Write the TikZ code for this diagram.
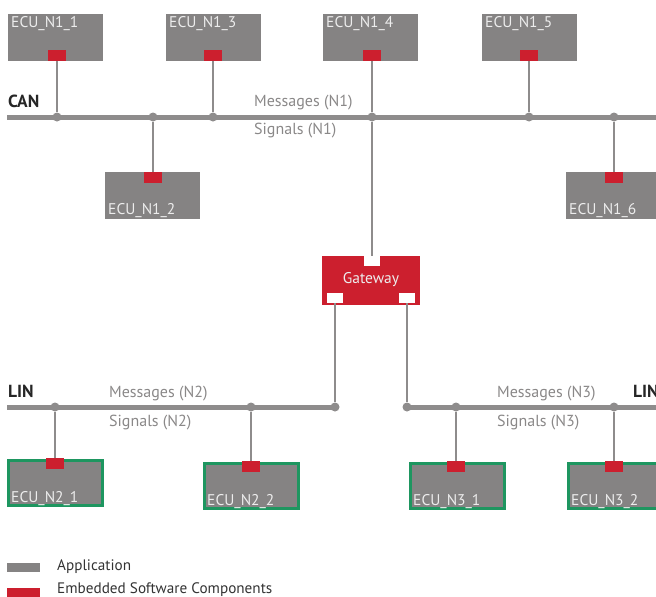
\documentclass[tikz,border=0pt]{standalone}
\usepackage{fontspec}
\setmainfont{PT Sans}
\definecolor{ecugray}{HTML}{858383}
\definecolor{busgray}{HTML}{8E8C8C}
\definecolor{ecured}{HTML}{CC1F2E}
\definecolor{ecugreen}{HTML}{1E9660}
\definecolor{lbltxt}{HTML}{EDEDED}
\definecolor{bustxt}{HTML}{8A8888}
\begin{document}
\begin{tikzpicture}[x=1pt,y=-1pt,
  ecu/.style={fill=ecugray, minimum width=95pt, minimum height=47pt, inner sep=0pt, anchor=north west},
  ecug/.style={fill=ecugray, draw=ecugreen, line width=3pt, minimum width=94pt, minimum height=45pt, inner sep=0pt, anchor=north west},
  port/.style={fill=ecured, minimum width=18pt, minimum height=11pt, inner sep=0pt},
  wport/.style={fill=white, minimum width=16pt, minimum height=10pt, inner sep=0pt},
  dot/.style={circle, fill=busgray, inner sep=0pt, minimum size=9pt},
  bus/.style={busgray, line width=5pt},
  drop/.style={busgray, line width=2pt},
  lbl/.style={text=lbltxt, font=\fontsize{15.5}{16}\selectfont, inner xsep=3pt, inner ysep=2pt},
  bustext/.style={text=bustxt, font=\fontsize{16}{18}\selectfont, inner sep=0pt, anchor=west},
  busname/.style={text=black!85, font=\bfseries\fontsize{17.5}{18}\selectfont, inner sep=0pt, anchor=west},
  legtext/.style={text=black!80, font=\fontsize{15.2}{17}\selectfont, inner sep=0pt, anchor=west}
]
\useasboundingbox (0,0) rectangle (656,597);
% buses
\coordinate (canL) at (7,117);
\coordinate (canR) at (656,117);
\coordinate (linAL) at (7,407);
\coordinate (linBR) at (656,407);
\draw[bus] (canL) -- (canR);
\draw[bus] (linAL) -- (335,407);
\draw[bus] (407,407) -- (linBR);
% dots
\node[dot] (d11) at (57,117) {};
\node[dot] (d12) at (153,117) {};
\node[dot] (d13) at (213,117) {};
\node[dot] (d14) at (372,117) {};
\node[dot] (d15) at (529,117) {};
\node[dot] (d16) at (614,117) {};
\node[dot] (d21) at (55,407) {};
\node[dot] (d22) at (251,407) {};
\node[dot] (d2g) at (335,407) {};
\node[dot] (d3g) at (407,407) {};
\node[dot] (d31) at (456,407) {};
\node[dot] (d32) at (614,407) {};
% bus labels
\node[busname] (can) at (8,101) {CAN};
\node[bustext] (m1) at (254,103) {Messages (N1)};
\node[bustext] (s1) at (254,131) {Signals (N1)};
\node[busname] (linA) at (8,391) {LIN};
\node[bustext] (m2) at (109,394) {Messages (N2)};
\node[bustext] (s2) at (109,423) {Signals (N2)};
\node[busname] (linB) at (633,391) {LIN};
\node[bustext] (m3) at (497,394) {Messages (N3)};
\node[bustext] (s3) at (497,423) {Signals (N3)};
% top ECUs
\node[ecu] (e11) at (8,14) {};
\node[lbl, anchor=north west] at (e11.north west) {ECU\_N1\_1};
\node[port, anchor=south] (p11) at (57,61) {};
\node[ecu] (e13) at (166,14) {};
\node[lbl, anchor=north west] at (e13.north west) {ECU\_N1\_3};
\node[port, anchor=south] (p13) at (213,61) {};
\node[ecu] (e14) at (323,14) {};
\node[lbl, anchor=north west] at (e14.north west) {ECU\_N1\_4};
\node[port, anchor=south] (p14) at (372,61) {};
\node[ecu] (e15) at (482,14) {};
\node[lbl, anchor=north west] at (e15.north west) {ECU\_N1\_5};
\node[port, anchor=south] (p15) at (529,61) {};
% lower CAN ECUs
\node[ecu] (e12) at (105,172) {};
\node[lbl, anchor=south west] at (e12.south west) {ECU\_N1\_2};
\node[port, anchor=north] (p12) at (153,172) {};
\node[ecu] (e16) at (566,172) {};
\node[lbl, anchor=south west] at (e16.south west) {ECU\_N1\_6};
\node[port, anchor=north] (p16) at (614,172) {};
% gateway
\node[fill=ecured, minimum width=98pt, minimum height=49pt, inner sep=0pt, text=lbltxt, font=\fontsize{15.5}{16}\selectfont] (gw) at (371,280) {Gateway};
\node[wport] (gtop) at (372,261) {};
\node[wport] (gbl) at (335,298) {};
\node[wport] (gbr) at (407,298) {};
% LIN ECUs
\node[ecug] (e21) at (6.5,458.5) {};
\node[lbl, anchor=south west] at ([xshift=1.5pt,yshift=-1.5pt]e21.south west) {ECU\_N2\_1};
\node[port, anchor=north] (p21) at (55,458) {};
\node[ecug] (e22) at (202.5,461.5) {};
\node[lbl, anchor=south west] at ([xshift=1.5pt,yshift=-1.5pt]e22.south west) {ECU\_N2\_2};
\node[port, anchor=north] (p22) at (251,461) {};
\node[ecug] (e31) at (408.5,461.5) {};
\node[lbl, anchor=south west] at ([xshift=1.5pt,yshift=-1.5pt]e31.south west) {ECU\_N3\_1};
\node[port, anchor=north] (p31) at (456,461) {};
\node[ecug] (e32) at (566.5,461.5) {};
\node[lbl, anchor=south west] at ([xshift=1.5pt,yshift=-1.5pt]e32.south west) {ECU\_N3\_2};
\node[port, anchor=north] (p32) at (614,461) {};
% connectors
\draw[drop] (p11) -- (d11);
\draw[drop] (p13) -- (d13);
\draw[drop] (p14) -- (d14);
\draw[drop] (p15) -- (d15);
\draw[drop] (d12) -- (p12);
\draw[drop] (d16) -- (p16);
\draw[drop] (d14) -- (gtop);
\draw[drop] (gbl) -- (d2g);
\draw[drop] (gbr) -- (d3g);
\draw[drop] (d21) -- (p21);
\draw[drop] (d22) -- (p22);
\draw[drop] (d31) -- (p31);
\draw[drop] (d32) -- (p32);
% legend
\node[fill=ecugray, minimum width=33pt, minimum height=9pt, inner sep=0pt, anchor=north west] (lg1) at (7,563) {};
\node[legtext] at (57,567) {Application};
\node[fill=ecured, minimum width=33pt, minimum height=10pt, inner sep=0pt, anchor=north west] (lg2) at (7,588) {};
\node[legtext] at (57,590) {Embedded Software Components};
\end{tikzpicture}
\end{document}
